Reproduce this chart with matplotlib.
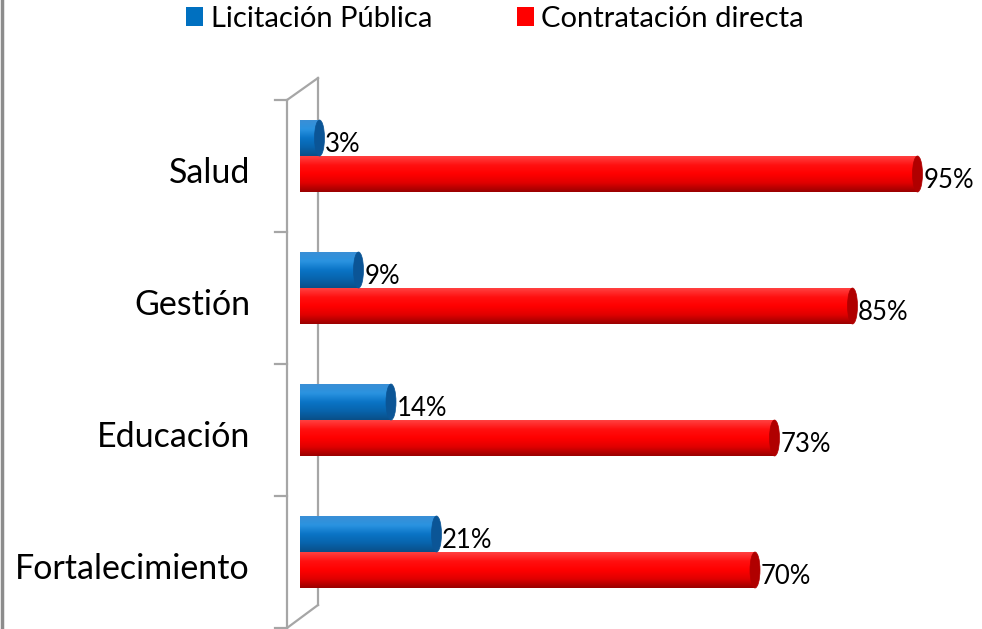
import matplotlib.pyplot as plt
import numpy as np
from matplotlib.colors import LinearSegmentedColormap
from matplotlib.patches import PathPatch, Ellipse, Patch
from matplotlib.path import Path
from matplotlib.lines import Line2D

plt.rcParams['font.family'] = ['Lato', 'DejaVu Sans']

categories = ['Salud', 'Gestión', 'Educación', 'Fortalecimiento']
licitacion = [3, 9, 14, 21]
contratacion = [95, 85, 73, 70]
series_names = ['Licitación Pública', 'Contratación directa']

W, H = 982, 629
fig = plt.figure(figsize=(W / 100, H / 100), dpi=100)

# axes: x 0..100 -> px 300..950, y -0.5..3.5 -> px 100..628
ax = fig.add_axes([300 / W, 1 / H, 650 / W, 528 / H])

px_x = 100 / 650      # data units per pixel (x)
px_y = 4 / 528        # data units per pixel (y)
bar_h = 36 * px_y
cap_a = 5 * px_x
shift = -10 * px_y

blue_cmap = LinearSegmentedColormap.from_list(
    'b', ['#3a8fd6', '#2a93e0', '#0a74c6', '#0864ad', '#0a4f88'])
red_cmap = LinearSegmentedColormap.from_list(
    'r', ['#ff4040', '#ff1010', '#ff0000', '#e00000', '#9a0000'])


def cylinder(v, yc, cmap, cap_color):
    yt, yb = yc - bar_h / 2, yc + bar_h / 2
    t = np.linspace(np.pi / 2, 3 * np.pi / 2, 30)
    left = np.column_stack([0.6 * cap_a * np.cos(t), yc - np.sin(t) * bar_h / 2])
    verts = np.vstack([left, [[v, yb], [v, yt], [0, yt]]])
    codes = [Path.MOVETO] + [Path.LINETO] * (len(verts) - 2) + [Path.CLOSEPOLY]
    patch = PathPatch(Path(verts, codes), facecolor='none', edgecolor='none',
                      transform=ax.transData, zorder=3)
    ax.add_patch(patch)
    grad = np.linspace(0, 1, 64).reshape(-1, 1)
    im = ax.imshow(grad, cmap=cmap, aspect='auto', origin='upper',
                   extent=(-cap_a, v, yb, yt), zorder=3, interpolation='bilinear')
    im.set_clip_path(patch)
    ax.add_patch(Ellipse((v, yc), 2 * cap_a, bar_h, facecolor=cap_color,
                         edgecolor=cap_color, lw=0.5, zorder=4))


for i, (lv, cv) in enumerate(zip(licitacion, contratacion)):
    yb_ = i + shift - bar_h / 2
    yr_ = i + shift + bar_h / 2
    cylinder(lv, yb_, blue_cmap, '#0b5596')
    cylinder(cv, yr_, red_cmap, '#b00000')
    ax.text(lv + cap_a + 0.1, yb_ + 6 * px_y, f'{lv}%', fontsize=18.5,
            va='center', ha='left', zorder=5)
    ax.text(cv + cap_a + 0.1, yr_ + 6 * px_y, f'{cv}%', fontsize=18.5,
            va='center', ha='left', zorder=5)

ax.set_xlim(0, 100)
ax.set_ylim(3.5, -0.5)

# 3D wall lines
wall = '#a6a6a6'
xf, xb, xt = -13 * px_x, 18 * px_x, -25 * px_x
y_top, y_bot = -0.5, 3.5
ax.plot([xf, xf], [y_top, y_bot], color=wall, lw=1.6, clip_on=False, zorder=1)
ax.plot([xb, xb], [y_top - 22 * px_y, y_bot - 23 * px_y], color=wall, lw=1.6,
        clip_on=False, zorder=1)
ax.plot([xf, xb], [y_top, y_top - 22 * px_y], color=wall, lw=1.6, clip_on=False, zorder=1)
ax.plot([xf, xb], [y_bot, y_bot - 23 * px_y], color=wall, lw=1.6, clip_on=False, zorder=1)
for yy in np.arange(-0.5, 3.6, 1.0):
    ax.plot([xt, xf], [yy, yy], color=wall, lw=1.6, clip_on=False, zorder=1)

ax.set_yticks(np.arange(len(categories)) + 4 * px_y)
ax.set_yticklabels(categories, fontsize=24.5)
ax.tick_params(axis='y', length=0, pad=36)
ax.set_xticks([])
for s in ax.spines.values():
    s.set_visible(False)
ax.patch.set_alpha(0)

handles = [Patch(facecolor='#0070c0'), Patch(facecolor='#ff0000')]
fig.legend(handles, series_names, loc='upper left', bbox_to_anchor=(180 / W, 1.0),
           ncol=2, frameon=False, fontsize=21, handlelength=0.6, handleheight=0.6,
           handletextpad=0.25, columnspacing=2.9, borderaxespad=0, borderpad=0.2)

fig.add_artist(Line2D([1.5 / W, 1.5 / W], [0, 1], color='#8c8c8c', lw=2.5))

fig.savefig('out.png', dpi=100)
